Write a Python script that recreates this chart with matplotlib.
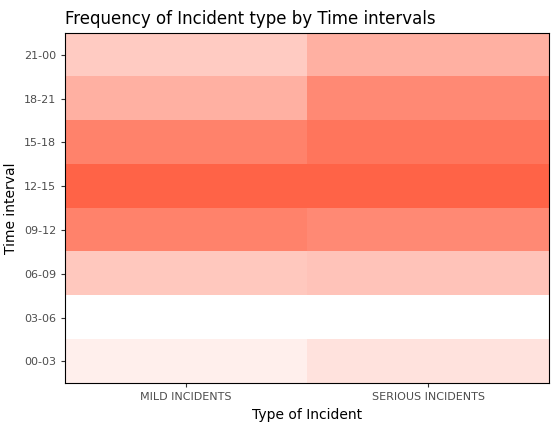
import matplotlib.pyplot as plt
from matplotlib.colors import LinearSegmentedColormap
import numpy as np

incident_types = ["MILD INCIDENTS", "SERIOUS INCIDENTS"]
time_intervals = ["00-03", "03-06", "06-09", "09-12", "12-15", "15-18", "18-21", "21-00"]
mild_counts = [10, 0, 35, 80, 100, 80, 50, 33]
serious_counts = [18, 0, 38, 75, 100, 88, 75, 50]

data = np.array([mild_counts, serious_counts]).T
cmap = LinearSegmentedColormap.from_list("wt", ["#FFFFFF", "#FF6347"])

fig = plt.figure(figsize=(5.57, 4.3), dpi=100)
ax = fig.add_axes([0.117, 0.109, 0.869, 0.814])
ax.imshow(data, cmap=cmap, aspect="auto", origin="lower", vmin=0, vmax=100,
          extent=(-0.5, 1.5, -0.5, 7.5))
ax.set_xlim(-0.5, 1.5)
ax.set_ylim(-0.5, 7.5)
ax.set_xticks(range(len(incident_types)))
ax.set_xticklabels(incident_types)
ax.set_yticks(range(len(time_intervals)))
ax.set_yticklabels(time_intervals)
ax.tick_params(labelsize=8, colors="#4D4D4D", length=3)
ax.tick_params(axis="both", color="#333333")
for s in ax.spines.values():
    s.set_color("black")
    s.set_linewidth(0.8)
ax.set_xlabel("Type of Incident", fontsize=10)
ax.set_ylabel("Time interval", fontsize=10)
fig.text(0.117, 0.945, "Frequency of Incident type by Time intervals", fontsize=12)
fig.savefig("out.png", dpi=100)
